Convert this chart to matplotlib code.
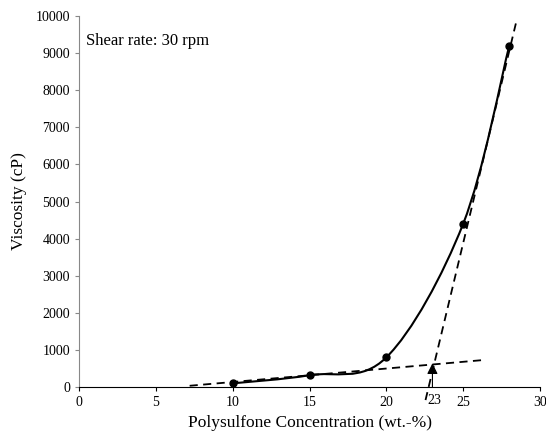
import numpy as np
import matplotlib
matplotlib.use("Agg")
from matplotlib import pyplot as plt
from matplotlib.path import Path
from matplotlib.patches import PathPatch

plt.rcParams['font.family'] = ['Liberation Serif', 'DejaVu Serif']

# measured data
conc = [10, 15, 20, 25, 28]
visc = [100, 320, 800, 4400, 9200]

# tangent lines
low_x = [7.2, 26.3]
low_y = [35, 728]
high_x = [22.55, 28.5]
high_y = [-350, 9920]

crit_conc = 23
crit_visc = 640

fig = plt.figure(figsize=(5.46, 4.32), dpi=100)
ax = fig.add_axes([0.1447, 0.104, 0.8443, 0.859])

# smooth line through the points (Excel-like bezier smoothing)
pts = np.column_stack([conc, visc]).astype(float)
verts = [tuple(pts[0])]
codes = [Path.MOVETO]
n = len(pts)
for i in range(n - 1):
    p0 = pts[max(i - 1, 0)]
    p1 = pts[i]
    p2 = pts[i + 1]
    p3 = pts[min(i + 2, n - 1)]
    c1 = p1 + (p2 - p0) / 6.0
    c2 = p2 - (p3 - p1) / 6.0
    verts += [tuple(c1), tuple(c2), tuple(p2)]
    codes += [Path.CURVE4] * 3
ax.add_patch(PathPatch(Path(verts, codes), facecolor="none", edgecolor="black", lw=1.5, clip_on=False))

ax.plot(conc, visc, "o", color="black", markersize=5, zorder=4)

ax.plot(low_x, low_y, "--", color="black", lw=1.3, dashes=(4.5, 3))
ax.plot(high_x, high_y, "--", color="black", lw=1.3, dashes=(4.5, 3), clip_on=False)

ax.annotate("", xy=(crit_conc, crit_visc), xytext=(crit_conc, 0),
            arrowprops=dict(arrowstyle="-|>", color="black", lw=0.8, mutation_scale=16,
                            shrinkA=0, shrinkB=0))
ax.text(crit_conc + 0.15, -200, "23", ha="center", va="top", fontsize=10)

ax.text(0.015, 0.955, "Shear rate: 30 rpm", transform=ax.transAxes, ha="left", va="top", fontsize=12)

ax.set_xlim(0, 30)
ax.set_ylim(0, 10000)
ax.set_xticks(range(0, 31, 5))
ax.set_yticks(range(0, 10001, 1000))
ax.tick_params(axis="both", direction="out", length=3, labelsize=10)
ax.tick_params(axis="y", color="#888888")
ax.spines["top"].set_visible(False)
ax.spines["right"].set_visible(False)
ax.spines["left"].set_color("#888888")
ax.set_xlabel("Polysulfone Concentration (wt.-%)", fontsize=12.5, labelpad=4)
ax.set_ylabel("Viscosity (cP)", fontsize=12.5, labelpad=6)

fig.savefig("out.png", dpi=100)
